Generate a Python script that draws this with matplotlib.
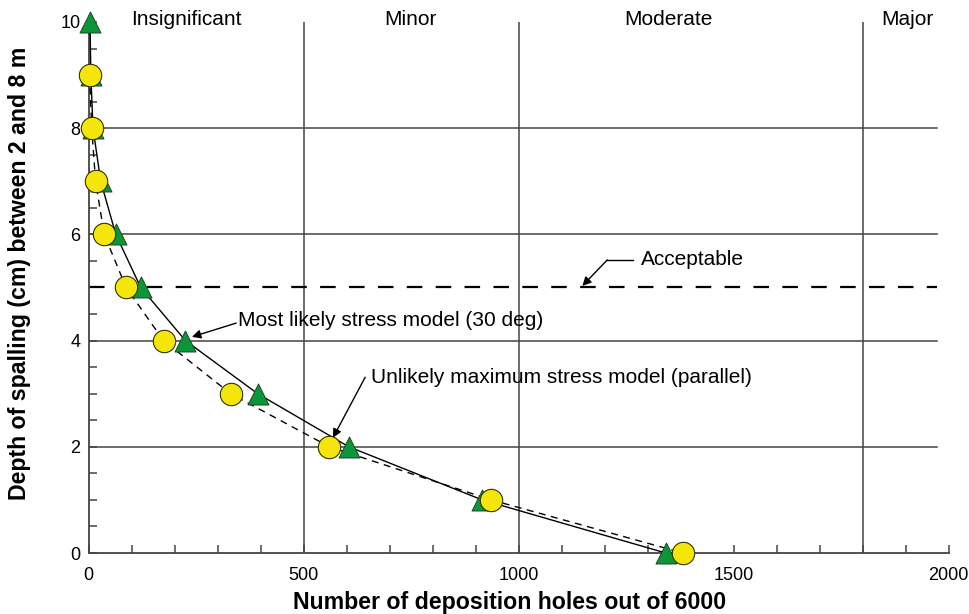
import matplotlib
matplotlib.use("Agg")
import matplotlib.pyplot as plt
from matplotlib.ticker import MultipleLocator

plt.rcParams['font.family'] = ['Liberation Sans', 'DejaVu Sans']

# Data
depth_tri = [10, 9, 8, 7, 6, 5, 4, 3, 2, 1, 0]
holes_likely = [3, 5, 10, 28, 63, 121, 225, 393, 605, 915, 1342]
depth_circ = [9, 8, 7, 6, 5, 4, 3, 2, 1, 0]
holes_parallel = [2, 7, 16, 36, 87, 174, 330, 560, 936, 1382]

zone_labels = ["Insignificant", "Minor", "Moderate", "Major"]
zone_label_x = [226, 749, 1349, 1905]
zone_bounds = [500, 1000, 1800]
grid_y = [2, 4, 6, 8]
acceptable_depth = 5

fig = plt.figure(figsize=(9.7, 6.14), dpi=100)
ax = fig.add_axes([88.7/970, 1-553/614, (948.7-88.7)/970, (553-22)/614])
ax.set_xlim(0, 2000)
ax.set_ylim(0, 10)

for s in ['top', 'right']:
    ax.spines[s].set_visible(False)
for s in ['left', 'bottom']:
    ax.spines[s].set_color('#444444')
    ax.spines[s].set_linewidth(1.3)

for gy in grid_y:
    ax.plot([0, 1973], [gy, gy], color='#444444', lw=1.1, zorder=1)
for gx in zone_bounds:
    ax.plot([gx, gx], [0, 10], color='#444444', lw=1.1, zorder=1)
ax.plot([0, 1973], [acceptable_depth]*2, color='black', lw=1.6,
        dashes=(7, 6), zorder=2)

ax.plot(holes_likely, depth_tri, color='black', lw=1.0, zorder=3)
ax.plot(holes_parallel, depth_circ, color='black', lw=1.0, dashes=(5, 4), zorder=3)

ax.scatter(holes_likely, depth_tri, marker='^', s=230, color='#0a9639',
           edgecolors='#1a3a1a', linewidths=0.6, zorder=4, clip_on=False)
ax.scatter(holes_parallel, depth_circ, marker='o', s=260, color='#f5e60a',
           edgecolors='#333300', linewidths=0.8, zorder=5, clip_on=False)

for lab, lx in zip(zone_labels, zone_label_x):
    ax.text(lx, 10.05, lab, ha='center', va='center', fontsize=15)

arrow_kw = dict(arrowstyle='-|>', color='black', lw=1.0,
                shrinkA=0, shrinkB=0, mutation_scale=13)

# Acceptable
ax.text(1284, 5.52, 'Acceptable', fontsize=15, va='center', ha='left')
ax.plot([1266, 1206], [5.52, 5.52], color='black', lw=1.0, zorder=3)
ax.annotate('', xy=(1148, 5.03), xytext=(1206, 5.52), arrowprops=arrow_kw)

# Most likely
ax.text(347, 4.38, 'Most likely stress model (30 deg)', fontsize=15,
        va='center', ha='left')
ax.annotate('', xy=(240, 4.07), xytext=(343, 4.33), arrowprops=arrow_kw)

# Unlikely
ax.text(656, 3.3, 'Unlikely maximum stress model (parallel)', fontsize=15,
        va='center', ha='left')
ax.annotate('', xy=(568, 2.17), xytext=(643, 3.31), arrowprops=arrow_kw)

ax.xaxis.set_major_locator(MultipleLocator(500))
ax.xaxis.set_minor_locator(MultipleLocator(100))
ax.yaxis.set_major_locator(MultipleLocator(2))
ax.yaxis.set_minor_locator(MultipleLocator(0.5))
ax.tick_params(which='both', direction='in', color='#444444', width=1.1,
               labelsize=13)
ax.tick_params(which='major', length=6)
ax.tick_params(which='minor', length=6)
ax.tick_params(axis='x', pad=10)
ax.tick_params(axis='y', pad=6)

ax.set_xlabel('Number of deposition holes out of 6000', fontsize=16.7,
              fontweight='bold', va='center')
ax.xaxis.set_label_coords((510-88.7)/860, (553-603)/531)
ax.set_ylabel('Depth of spalling (cm) between 2 and 8 m', fontsize=16.7,
              fontweight='bold', va='center')
ax.yaxis.set_label_coords((20-88.7)/860, (553-273)/531)

fig.savefig('out.png', dpi=100)
